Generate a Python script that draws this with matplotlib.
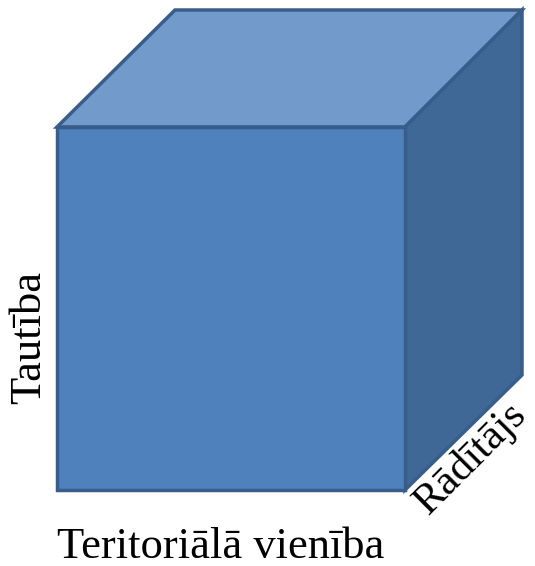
import matplotlib
matplotlib.use('Agg')
import matplotlib.pyplot as plt
from matplotlib.patches import Polygon

# cube faces in pixel coordinates (y down)
front_x = [57, 405, 405, 57]
front_y = [127, 127, 490, 490]
top_x = [57, 175, 522, 405]
top_y = [127, 10, 10, 127]
right_x = [405, 522, 522, 405]
right_y = [127, 10, 375, 490]

labels = ['Tautība', 'Teritoriālā vienība', 'Rādītājs']

edge = '#385D8A'

fig = plt.figure(figsize=(5.35, 5.66), dpi=100)
ax = fig.add_axes([0, 0, 1, 1])
ax.set_xlim(0, 535)
ax.set_ylim(566, 0)
ax.axis('off')

for xs, ys, col in [(top_x, top_y, '#729ACA'),
                    (right_x, right_y, '#3F6897'),
                    (front_x, front_y, '#4F81BD')]:
    ax.add_patch(Polygon(list(zip(xs, ys)), closed=True, facecolor=col,
                         edgecolor=edge, linewidth=2.5, joinstyle='miter'))

font = dict(family='Liberation Serif', size=32, color='black')
ax.text(29, 337, labels[0], rotation=90, ha='center', va='center', **font)
ax.text(221, 547, labels[1], ha='center', va='center', **font)
ax.text(471, 458, labels[2], rotation=45, ha='center', va='center',
        rotation_mode='anchor', fontsize=31,
        family='Liberation Serif', color='black')

plt.savefig('out.png', dpi=100)
plt.close()
